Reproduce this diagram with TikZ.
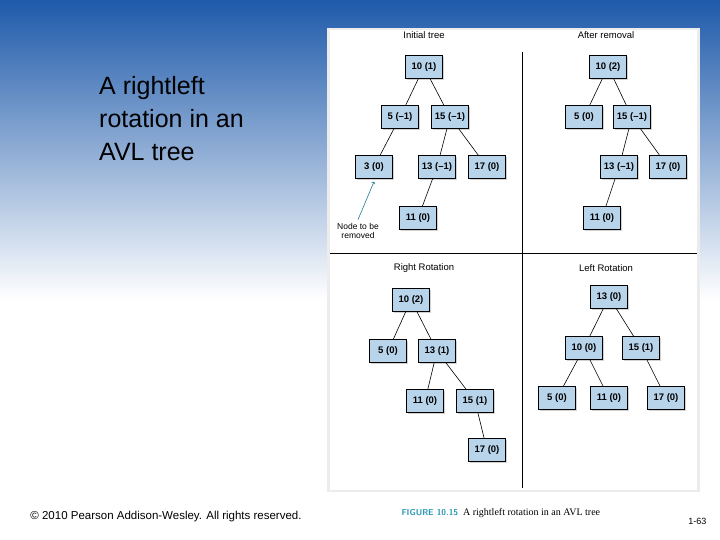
\documentclass[tikz,border=0pt]{standalone}
\usepackage{fontspec}
\setmainfont{Liberation Sans}
\newfontfamily\capfont{Liberation Serif}
\usetikzlibrary{shadows}
\definecolor{slideblue}{RGB}{30,90,170}
\definecolor{boxblue}{RGB}{184,212,234}
\definecolor{capteal}{RGB}{40,150,180}
\tikzset{avl/.style={draw, fill=boxblue, minimum width=37pt, minimum height=23pt, inner sep=1pt, font=\fontsize{9.5}{11}\selectfont\bfseries, drop shadow={shadow xshift=1.5pt, shadow yshift=-1.5pt, fill=gray!70}}}
\tikzset{lbl/.style={font=\fontsize{9.5}{11}\selectfont}}
\tikzset{edge/.style={draw, line width=0.6pt}}
\begin{document}
\begin{tikzpicture}[x=1pt,y=-1pt]
\useasboundingbox (0,0) rectangle (720,540);
\shade[top color=slideblue, bottom color=white] (0,0) rectangle (720,300);
\fill[white] (0,300) rectangle (720,540);
\fill[gray!15] (327,28) rectangle (700,492);
\fill[white] (330,30) rectangle (697,490);

%title
\node[anchor=north west, align=left, font=\fontsize{25}{33}\selectfont, inner sep=0pt] (title) at (99,76) {A rightleft\\rotation in an\\AVL tree};

%dividers
\draw[line width=0.7pt] (330,253) -- (697,253);
\draw[line width=0.6pt] (522,52) -- (522,488);

%panel labels
\node[lbl] (l1) at (424,35) {Initial tree};
\node[lbl] (l2) at (606,35) {After removal};
\node[lbl] (l3) at (424,268) {Right Rotation};
\node[lbl] (l4) at (606,268) {Left Rotation};

%initial tree
\node[avl] (a10) at (424,67) {10 (1)};
\node[avl] (a5) at (400,117) {5 (--1)};
\node[avl] (a15) at (450,117) {15 (--1)};
\node[avl] (a3) at (374,167) {3 (0)};
\node[avl] (a13) at (437,167) {13 (--1)};
\node[avl] (a17) at (487,167) {17 (0)};
\node[avl] (a11) at (418,218) {11 (0)};
\path[edge] (a10) -- (a5) (a10) -- (a15) (a5) -- (a3) (a15) -- (a13) (a15) -- (a17) (a13) -- (a11);
\node[lbl, align=center, font=\fontsize{8.5}{9.5}\selectfont] (rm) at (358,231) {Node to be\\removed};
\draw[->, capteal!80!black, line width=0.6pt] (rm.north) -- ([yshift=-3pt]a3.south);

%after removal
\node[avl] (b10) at (608,67) {10 (2)};
\node[avl] (b5) at (584,117) {5 (0)};
\node[avl] (b15) at (632,117) {15 (--1)};
\node[avl] (b13) at (619,167) {13 (--1)};
\node[avl] (b17) at (668,167) {17 (0)};
\node[avl] (b11) at (602,218) {11 (0)};
\path[edge] (b10) -- (b5) (b10) -- (b15) (b15) -- (b13) (b15) -- (b17) (b13) -- (b11);

%right rotation
\node[avl] (c10) at (411,300) {10 (2)};
\node[avl] (c5) at (388,351) {5 (0)};
\node[avl] (c13) at (437,351) {13 (1)};
\node[avl] (c11) at (425,401) {11 (0)};
\node[avl] (c15) at (475,401) {15 (1)};
\node[avl] (c17) at (487,450) {17 (0)};
\path[edge] (c10) -- (c5) (c10) -- (c13) (c13) -- (c11) (c13) -- (c15) (c15) -- (c17);

%left rotation
\node[avl] (d13) at (609,297) {13 (0)};
\node[avl] (d10) at (584,348) {10 (0)};
\node[avl] (d15) at (641,348) {15 (1)};
\node[avl] (d5) at (557,398) {5 (0)};
\node[avl] (d11) at (609,398) {11 (0)};
\node[avl] (d17) at (666,398) {17 (0)};
\path[edge] (d13) -- (d10) (d13) -- (d15) (d10) -- (d5) (d10) -- (d11) (d15) -- (d17);

%caption and footer
\node[anchor=west, font=\capfont\fontsize{10}{12}\selectfont] (cap) at (398,513) {{\color{capteal}\sffamily\bfseries\fontsize{8.5}{10}\selectfont FIGURE 10.15}\ \ A rightleft rotation in an AVL tree};
\node[font=\fontsize{11.5}{13}\selectfont] (copy) at (166,517) {\textcopyright{} 2010 Pearson Addison-Wesley. All rights reserved.};
\node[anchor=east, font=\fontsize{9}{10}\selectfont] (pg) at (710,521) {1-63};
\end{tikzpicture}
\end{document}
